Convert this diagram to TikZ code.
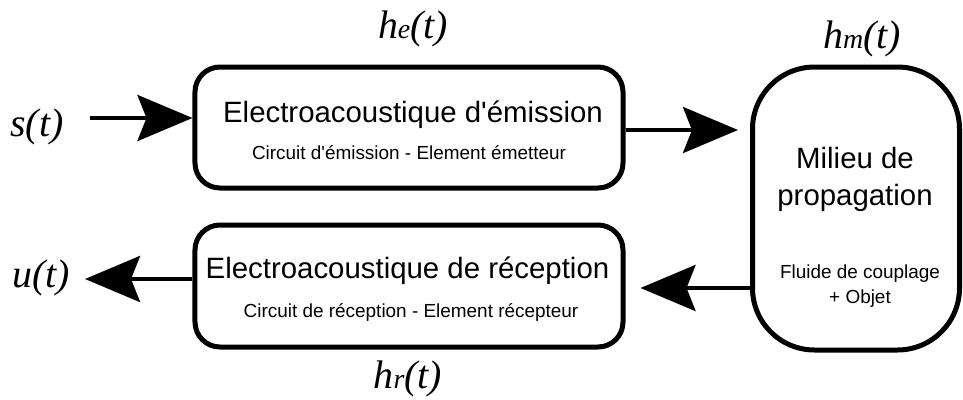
\documentclass[tikz,border=0pt]{standalone}
\usepackage{fontspec}
\setmainfont{Liberation Sans}
\newfontfamily\lblfont{Liberation Serif}
\usetikzlibrary{arrows.meta}
\begin{document}
\begin{tikzpicture}[x=1bp,y=-1bp,
  blk/.style={draw,line width=5bp,rounded corners=#1,inner sep=0pt},
  ttl/.style={font=\fontsize{29.5}{37}\selectfont,inner sep=0pt,anchor=base},
  sub/.style={font=\fontsize{19}{25}\selectfont,inner sep=0pt,anchor=base},
  sig/.style={font=\lblfont\itshape\fontsize{40}{42}\selectfont,inner sep=0pt,anchor=base},
  conn/.style={line width=4bp,-{Stealth[length=55bp,width=46bp,inset=9bp]}}]
\newcommand\smallsub[1]{{\fontsize{28}{30}\selectfont #1}}
\useasboundingbox (0,0) rectangle (963,399);
% boxes
\node[blk=25bp,minimum width=428bp,minimum height=121bp] (em) at (409,127.5) {};
\node[blk=25bp,minimum width=428bp,minimum height=122bp] (re) at (409,286) {};
\node[blk=62bp,minimum width=207bp,minimum height=283bp] (mi) at (856,208.5) {};
% texts
\node[ttl] (emt) at (413,122) {Electroacoustique d\textquotesingle émission};
\node[sub] (ems) at (409,159) {Circuit d\textquotesingle émission - Element émetteur};
\node[ttl] (ret) at (407.5,278) {Electroacoustique de réception};
\node[sub] (res) at (411,317) {Circuit de réception - Element récepteur};
\node[ttl] (mit1) at (855,168) {Milieu de};
\node[ttl] (mit2) at (855,205) {propagation};
\node[sub] (mis1) at (860,278) {Fluide de couplage};
\node[sub] (mis2) at (860,303) {+ Objet};
% signal labels
\node[sig] (s) at (37,136) {s(t)};
\node[sig] (u) at (41,287) {u(t)};
\node[sig] (he) at (413,38) {h\smallsub{e}(t)};
\node[sig] (hm) at (862,48) {h\smallsub{m}(t)};
\node[sig] (hr) at (408,388) {h\smallsub{r}(t)};
% connectors
\coordinate (sin) at (90,118);
\coordinate (uout) at (85,279);
\draw[conn] (sin) -- (em.west |- sin);
\draw[conn,shorten >=12bp] (em.east |- 0,130) -- (mi.west |- 0,130);
\draw[conn,shorten >=15bp] (mi.west |- 0,288) -- (re.east |- 0,288);
\draw[conn] (re.west |- uout) -- (uout);
\end{tikzpicture}
\end{document}
